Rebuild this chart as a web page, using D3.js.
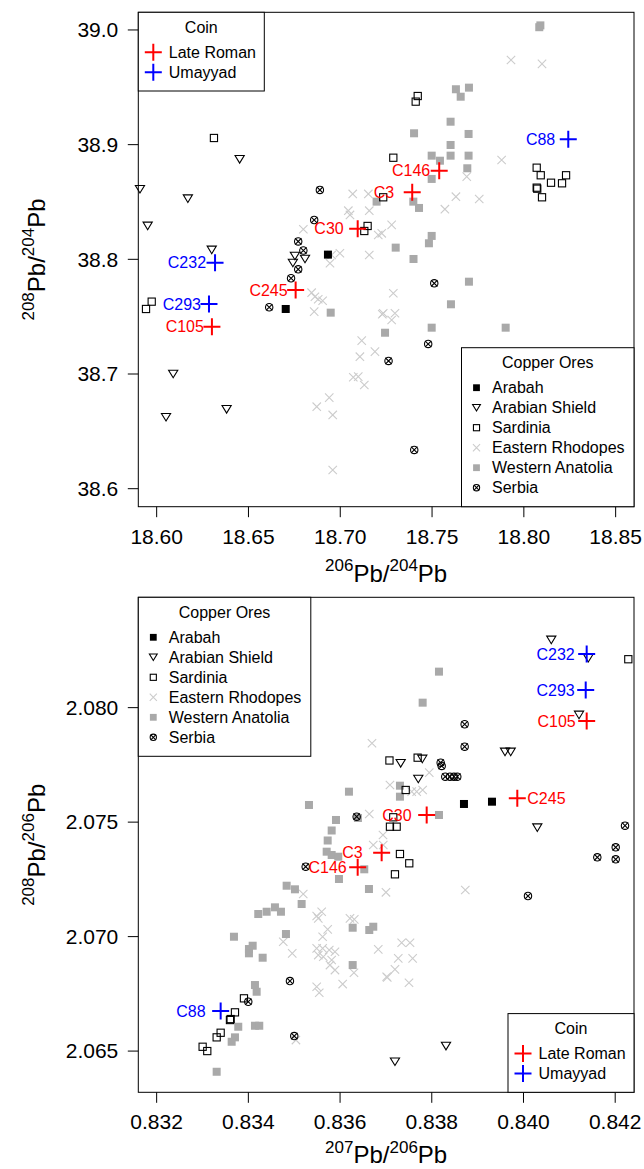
<!DOCTYPE html>
<html>
<head>
<meta charset="utf-8">
<script src="https://cdnjs.cloudflare.com/ajax/libs/d3/7.8.5/d3.min.js"></script>
<style>
  body { margin: 0; background: #fff; }
  text { font-family: "Liberation Sans", Arial, Helvetica, sans-serif; }
</style>
</head>
<body>
<div id="chart"></div>
<script>
var svgWidth = 644;
var svgHeight = 1169;

// legend labels
var oreNames = ["Arabah", "Arabian Shield", "Sardinia", "Eastern Rhodopes", "Western Anatolia", "Serbia"];
var coinPeriods = ["Late Roman", "Umayyad"];

// coins
var coinIds = ["C88", "C146", "C3", "C30", "C232", "C245", "C293", "C105"];
var coinPeriod = ["Umayyad", "Late Roman", "Late Roman", "Late Roman", "Umayyad", "Late Roman", "Umayyad", "Late Roman"];
var coin206_204 = [18.8242, 18.7539, 18.7392, 18.7095, 18.6318, 18.6757, 18.6285, 18.6301];
var coin208_204 = [38.9047, 38.8773, 38.8585, 38.8267, 38.7971, 38.7733, 38.7611, 38.7413];
var coin207_206 = [0.833396, 0.836384, 0.836907, 0.837889, 0.841378, 0.839865, 0.841357, 0.841378];
var coin208_206 = [2.066749, 2.073027, 2.073665, 2.075312, 2.082346, 2.076042, 2.080773, 2.079419];

// ores: [206Pb/204Pb, 208Pb/204Pb]
var arabah204 = [[18.6933, 38.8041], [18.6703, 38.7567]];
var shield204 = [[18.5909, 38.8611], [18.6452, 38.8872], [18.6170, 38.8529], [18.5951, 38.8291],
  [18.6300, 38.8082], [18.6753, 38.8029], [18.6808, 38.8003], [18.6742, 38.7968],
  [18.6090, 38.7000], [18.6051, 38.6623], [18.6381, 38.6692]];
var sardinia204 = [[18.6312, 38.9058], [18.5942, 38.7567], [18.5973, 38.7631], [18.7234, 38.8541],
  [18.7149, 38.8291], [18.7131, 38.8247], [18.7422, 38.9424], [18.7411, 38.9375], [18.7289, 38.8886],
  [18.8070, 38.8799], [18.8092, 38.8733], [18.8230, 38.8733], [18.8148, 38.8668], [18.8208, 38.8663],
  [18.8070, 38.8625], [18.8073, 38.8616], [18.8099, 38.8541]];
var rhodopes204 = [[18.7930, 38.9738], [18.8099, 38.9704], [18.7879, 38.8866], [18.7689, 38.8721],
  [18.7630, 38.8546], [18.7757, 38.8526], [18.7570, 38.8437], [18.7280, 38.8300], [18.7226, 38.8227],
  [18.7068, 38.8570], [18.7153, 38.8570], [18.7044, 38.8424], [18.7053, 38.8387], [18.7158, 38.8424],
  [18.6799, 38.8262], [18.7207, 38.8212], [18.6953, 38.8038], [18.6998, 38.8053], [18.7158, 38.8038],
  [18.6944, 38.7966], [18.6844, 38.7709], [18.6862, 38.7674], [18.6880, 38.7652], [18.6904, 38.7639],
  [18.6858, 38.7544], [18.7229, 38.7521], [18.7117, 38.7291], [18.7107, 38.7151], [18.7189, 38.7195],
  [18.7071, 38.6972], [18.7098, 38.6977], [18.7131, 38.6904], [18.6940, 38.6794], [18.6872, 38.6715],
  [18.6959, 38.6643], [18.6959, 38.6163], [18.7289, 38.7704], [18.7234, 38.7530], [18.7298, 38.7530],
  [18.7280, 38.7471]];
var anatolia204 = [[18.8084, 39.0024], [18.8090, 39.0040], [18.7630, 38.9483], [18.7701, 38.9497],
  [18.7656, 38.9418], [18.7601, 38.9200], [18.7402, 38.9099], [18.7699, 38.9093], [18.7601, 38.8997],
  [18.7498, 38.8904], [18.7601, 38.8904], [18.7699, 38.8904], [18.7543, 38.8860], [18.7692, 38.8794],
  [18.7498, 38.8701], [18.7398, 38.8503], [18.7429, 38.8448], [18.7498, 38.8204], [18.7483, 38.8140],
  [18.7302, 38.8102], [18.7399, 38.8003], [18.7198, 38.8503], [18.7701, 38.7805], [18.7603, 38.7608],
  [18.7498, 38.7404], [18.7244, 38.7360], [18.7901, 38.7404], [18.6948, 38.7535]];
var serbia204 = [[18.6889, 38.8605], [18.6858, 38.8343], [18.6771, 38.8156], [18.6799, 38.8077],
  [18.6771, 38.7913], [18.6732, 38.7835], [18.6613, 38.7582], [18.7263, 38.7114], [18.7512, 38.7791],
  [18.7479, 38.7262], [18.7403, 38.6338]];

// ores: [207Pb/206Pb, 208Pb/206Pb]
var arabah206 = [[0.838702, 2.075793], [0.839313, 2.075893]];
var shield206 = [[0.840606, 2.082958], [0.841413, 2.082158], [0.841211, 2.079681], [0.839597, 2.078065],
  [0.839721, 2.078065], [0.837322, 2.077571], [0.837793, 2.077759], [0.837706, 2.076885],
  [0.840301, 2.074757], [0.838310, 2.065220], [0.837197, 2.064534]];
var sardinia206 = [[0.842286, 2.082115], [0.837077, 2.077693], [0.837692, 2.077816], [0.837431, 2.076404],
  [0.837160, 2.075212], [0.837088, 2.074801], [0.837234, 2.074801], [0.837306, 2.073608],
  [0.837509, 2.073202], [0.837197, 2.072721], [0.833904, 2.067304], [0.833708, 2.066692],
  [0.833614, 2.066399], [0.833599, 2.066356], [0.833396, 2.065801], [0.833309, 2.065600],
  [0.833003, 2.065189], [0.833104, 2.065001]];
var rhodopes206 = [[0.836696, 2.078445], [0.836637, 2.075356], [0.837945, 2.077160], [0.837088, 2.076623],
  [0.837562, 2.076330], [0.837671, 2.076330], [0.837801, 2.076404], [0.837001, 2.071935],
  [0.838731, 2.072035], [0.837343, 2.069733], [0.837525, 2.069733], [0.837269, 2.069051],
  [0.837583, 2.069051], [0.837197, 2.068571], [0.837029, 2.068221], [0.837503, 2.067985],
  [0.836942, 2.074001], [0.836724, 2.074001], [0.836936, 2.074438], [0.835197, 2.071861],
  [0.835599, 2.071087], [0.835490, 2.070899], [0.835525, 2.070799], [0.836216, 2.070799],
  [0.836310, 2.070755], [0.835730, 2.070318], [0.835620, 2.069995], [0.834761, 2.069776],
  [0.834957, 2.069270], [0.836833, 2.069444], [0.835490, 2.069488], [0.835620, 2.069488],
  [0.835764, 2.069414], [0.835889, 2.069340], [0.835525, 2.069195], [0.835634, 2.069121],
  [0.835817, 2.068977], [0.835780, 2.068758], [0.835889, 2.068540], [0.836303, 2.068422],
  [0.836057, 2.067928], [0.837016, 2.068247], [0.835490, 2.067810], [0.835546, 2.067548],
  [0.835038, 2.065482]];
var anatolia206 = [[0.836194, 2.076330], [0.835322, 2.075749], [0.835911, 2.075094], [0.835817, 2.074635],
  [0.835730, 2.074198], [0.838157, 2.081573], [0.837801, 2.080218], [0.837306, 2.076592],
  [0.837306, 2.076112], [0.838157, 2.075312], [0.836390, 2.075181], [0.835708, 2.073709],
  [0.835817, 2.073564], [0.835961, 2.073490], [0.836528, 2.072940], [0.835976, 2.072516],
  [0.834835, 2.072223], [0.835016, 2.072066], [0.836630, 2.072079], [0.835162, 2.071424],
  [0.834216, 2.070987], [0.834399, 2.071087], [0.834580, 2.071279], [0.834711, 2.071087],
  [0.836275, 2.070388], [0.836637, 2.070288], [0.836724, 2.070432], [0.834820, 2.070113],
  [0.833686, 2.069995], [0.834094, 2.069602], [0.834013, 2.069457], [0.834013, 2.069270],
  [0.834312, 2.069078], [0.836275, 2.068758], [0.834144, 2.067885], [0.834181, 2.067592],
  [0.833780, 2.066063], [0.834144, 2.066107], [0.834238, 2.066107], [0.833708, 2.065600],
  [0.833636, 2.065408], [0.833309, 2.064097]];
var serbia206 = [[0.836362, 2.075238], [0.838717, 2.079275], [0.838717, 2.078296], [0.838194, 2.077597],
  [0.838216, 2.077453], [0.838294, 2.076985], [0.838397, 2.076985], [0.838484, 2.076985],
  [0.838556, 2.076985], [0.842214, 2.074845], [0.840098, 2.071773], [0.841610, 2.073464],
  [0.842011, 2.073901], [0.842011, 2.073377], [0.835250, 2.073053], [0.834907, 2.068060],
  [0.833998, 2.067155], [0.835001, 2.065657]];

// axis ticks
var topXTicks = [18.60, 18.65, 18.70, 18.75, 18.80, 18.85];
var topYTicks = [38.6, 38.7, 38.8, 38.9, 39.0];
var botXTicks = [0.832, 0.834, 0.836, 0.838, 0.840, 0.842];
var botYTicks = [2.065, 2.070, 2.075, 2.080];

// ---- styles ----
var oreStyle = [
  { shape: "fsq", color: "#000000" },
  { shape: "tri", color: "#000000" },
  { shape: "osq", color: "#000000" },
  { shape: "x", color: "#cccccc" },
  { shape: "fsq", color: "#a9a9a9" },
  { shape: "cx", color: "#000000" }
];
var drawOrder = [3, 4, 0, 1, 2, 5];
var periodColor = { "Late Roman": "#ff0000", "Umayyad": "#0000ff" };

var svg = d3.select("#chart")
  .append("svg")
  .attr("width", svgWidth)
  .attr("height", svgHeight)
  .style("background", "#fff");

function drawMark(g, shape, color, x, y, k) {
  if (shape === "fsq") {
    g.append("rect")
      .attr("x", x - 4 * k).attr("y", y - 4 * k)
      .attr("width", 8 * k).attr("height", 8 * k)
      .attr("fill", color);
  } else if (shape === "osq") {
    g.append("rect")
      .attr("x", x - 3.6 * k).attr("y", y - 3.6 * k)
      .attr("width", 7.2 * k).attr("height", 7.2 * k)
      .attr("fill", "none").attr("stroke", color).attr("stroke-width", 1.1);
  } else if (shape === "tri") {
    var w = 4.6 * k, h = 3.8 * k;
    g.append("path")
      .attr("d", `M${x - w},${y - h}L${x + w},${y - h}L${x},${y + h}Z`)
      .attr("fill", "none").attr("stroke", color).attr("stroke-width", 1.1);
  } else if (shape === "x") {
    var s = 4.2 * k;
    g.append("path")
      .attr("d", `M${x - s},${y - s}L${x + s},${y + s}M${x - s},${y + s}L${x + s},${y - s}`)
      .attr("stroke", color).attr("stroke-width", 1.1);
  } else if (shape === "cx") {
    g.append("circle")
      .attr("cx", x).attr("cy", y).attr("r", 3.7 * k)
      .attr("fill", "none").attr("stroke", color).attr("stroke-width", 1.1);
    var c = 3.2 * k;
    g.append("path")
      .attr("d", `M${x - c},${y - c}L${x + c},${y + c}M${x - c},${y + c}L${x + c},${y - c}`)
      .attr("stroke", color).attr("stroke-width", 1.1);
  } else if (shape === "plus") {
    var p = 8.5 * k;
    g.append("path")
      .attr("d", `M${x - p},${y}L${x + p},${y}M${x},${y - p}L${x},${y + p}`)
      .attr("stroke", color).attr("stroke-width", 2);
  }
}

// title with superscripts, parts: [text, isSup]
function supTitle(g, parts) {
  var t = g.append("text").attr("text-anchor", "middle").attr("font-size", "24px").attr("fill", "#000");
  var raised = false;
  parts.forEach(function(p) {
    var ts = t.append("tspan").text(p[0]);
    if (p[1]) {
      ts.attr("font-size", "17px").attr("dy", raised ? 0 : -10.6);
      raised = true;
    } else {
      ts.attr("dy", raised ? 10.6 : 0);
      raised = false;
    }
  });
  return t;
}

function legendBox(g, left, top, width, height, title, entries) {
  var lg = g.append("g");
  lg.append("rect")
    .attr("x", left).attr("y", top).attr("width", width).attr("height", height)
    .attr("fill", "#fff").attr("stroke", "#000").attr("stroke-width", 1);
  lg.append("text")
    .attr("x", left + width / 2).attr("y", top + 15)
    .attr("dy", "0.35em").attr("text-anchor", "middle")
    .attr("font-size", "16px").text(title);
  entries.forEach(function(e, i) {
    var y = top + 40 + i * 20;
    drawMark(lg, e.shape, e.color, left + 15, y, e.k);
    lg.append("text")
      .attr("x", left + 30.5).attr("y", y).attr("dy", "0.35em")
      .attr("font-size", "16px").text(e.label);
  });
}

function drawPanel(cfg) {
  var left = 138.3, right = 634;
  var x = d3.scaleLinear().domain(cfg.xDomain).range([left, right]);
  var y = d3.scaleLinear().domain(cfg.yDomain).range([cfg.bottom, cfg.top]);
  var g = svg.append("g");

  // ticks + labels
  cfg.xTicks.forEach(function(v) {
    g.append("line").attr("x1", x(v)).attr("x2", x(v))
      .attr("y1", cfg.bottom).attr("y2", cfg.bottom + 10.5)
      .attr("stroke", "#000").attr("stroke-width", 1);
    g.append("text").attr("x", x(v)).attr("y", cfg.bottom + 37)
      .attr("text-anchor", "middle").attr("font-size", "21px")
      .text(d3.format(cfg.xFmt)(v));
  });
  cfg.yTicks.forEach(function(v) {
    g.append("line").attr("x1", left).attr("x2", left - 10.5)
      .attr("y1", y(v)).attr("y2", y(v))
      .attr("stroke", "#000").attr("stroke-width", 1);
    g.append("text").attr("x", left - 20).attr("y", y(v)).attr("dy", "0.35em")
      .attr("text-anchor", "end").attr("font-size", "21px")
      .text(d3.format(cfg.yFmt)(v));
  });

  // axis titles
  supTitle(g, cfg.xTitle).attr("x", (left + right) / 2).attr("y", cfg.bottom + cfg.xTitleDy);
  var yt = supTitle(g, cfg.yTitle);
  var cy = (cfg.top + cfg.bottom) / 2;
  yt.attr("transform", `translate(45, ${cy}) rotate(-90)`);

  // ore points
  var pts = g.append("g");
  drawOrder.forEach(function(i) {
    cfg.ores[i].forEach(function(d) {
      drawMark(pts, oreStyle[i].shape, oreStyle[i].color, x(d[0]), y(d[1]), 1);
    });
  });

  // coins with labels
  coinIds.forEach(function(id, i) {
    var cx = x(cfg.coinX[i]), cyy = y(cfg.coinY[i]);
    var col = periodColor[coinPeriod[i]];
    drawMark(pts, "plus", col, cx, cyy, 1);
    var gap = cfg.labelGap[id];
    pts.append("text")
      .attr("x", cx - gap)
      .attr("y", cyy).attr("dy", "0.35em")
      .attr("text-anchor", gap > 0 ? "end" : "start")
      .attr("font-size", "16px").attr("fill", col)
      .text(id);
  });

  // frame
  g.append("rect").attr("x", left).attr("y", cfg.top)
    .attr("width", right - left).attr("height", cfg.bottom - cfg.top)
    .attr("fill", "none").attr("stroke", "#000").attr("stroke-width", 1);

  // legends
  var oreEntries = oreNames.map(function(n, i) {
    return { label: n, shape: oreStyle[i].shape, color: oreStyle[i].color, k: 0.85 };
  });
  var coinEntries = coinPeriods.map(function(p) {
    return { label: p, shape: "plus", color: periodColor[p], k: 1 };
  });
  legendBox(g, cfg.coinLeg[0], cfg.coinLeg[1], 126, 78.7, "Coin", coinEntries);
  legendBox(g, cfg.oreLeg[0], cfg.oreLeg[1], 172.5, 159, "Copper Ores", oreEntries);
}

drawPanel({
  top: 12.3, bottom: 506.7, xTitleDy: 75,
  xDomain: [18.59, 18.86], yDomain: [38.5843, 39.0154],
  xTicks: topXTicks, yTicks: topYTicks, xFmt: ".2f", yFmt: ".1f",
  ores: [arabah204, shield204, sardinia204, rhodopes204, anatolia204, serbia204],
  coinX: coin206_204, coinY: coin208_204,
  xTitle: [["206", 1], ["Pb/", 0], ["204", 1], ["Pb", 0]],
  yTitle: [["208", 1], ["Pb/", 0], ["204", 1], ["Pb", 0]],
  labelGap: { C88: 13, C146: 9, C3: 18, C30: 14, C232: 9, C245: 8, C293: 8, C105: 8 },
  coinLeg: [138.3, 12.3],
  oreLeg: [461.5, 347.7]
});

drawPanel({
  top: 597.3, bottom: 1092.3, xTitleDy: 71,
  xDomain: [0.83160, 0.84241], yDomain: [2.06320, 2.08482],
  xTicks: botXTicks, yTicks: botYTicks, xFmt: ".3f", yFmt: ".3f",
  ores: [arabah206, shield206, sardinia206, rhodopes206, anatolia206, serbia206],
  coinX: coin207_206, coinY: coin208_206,
  xTitle: [["207", 1], ["Pb/", 0], ["206", 1], ["Pb", 0]],
  yTitle: [["208", 1], ["Pb/", 0], ["206", 1], ["Pb", 0]],
  labelGap: { C88: 15, C146: 11, C3: 19, C30: 15, C232: 12, C245: -10, C293: 11, C105: 11 },
  coinLeg: [508, 1013.6],
  oreLeg: [138.3, 597.3]
});
</script>
</body>
</html>
